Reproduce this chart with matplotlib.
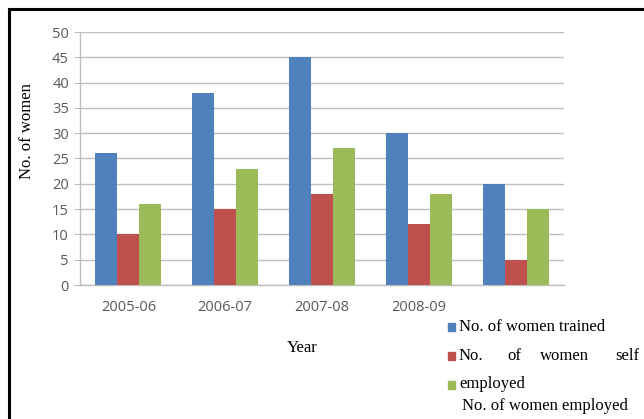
import numpy as np
import matplotlib
matplotlib.use("Agg")
import matplotlib.pyplot as plt
from matplotlib.patches import Rectangle
from matplotlib.lines import Line2D

# --- data ---
years = ["2005-06", "2006-07", "2007-08", "2008-09", ""]
trained = [26, 38, 45, 30, 20]
self_employed = [10, 15, 18, 12, 5]
employed = [16, 23, 27, 18, 15]

BLUE = "#4F81BD"
RED = "#C0504D"
GREEN = "#9BBB59"
GRID = "#BEBEBE"
TICK = "#595959"

W, H = 644, 419
fig = plt.figure(figsize=(W / 100, H / 100), dpi=100)


def fx(px):
    return px / W


def fy(py):
    return 1 - py / H


ax = fig.add_axes([fx(80), fy(285), fx(564) - fx(80), fy(32) - fy(285)])

x = np.arange(len(years))
bw = 0.227
ax.bar(x - bw, trained, bw, color=BLUE, zorder=3)
ax.bar(x, self_employed, bw, color=RED, zorder=3)
ax.bar(x + bw, employed, bw, color=GREEN, zorder=3)

ax.set_xlim(-0.5, len(years) - 0.5)
ax.set_ylim(0, 50)
ax.set_yticks(np.arange(0, 51, 5))
ax.set_xticks(x)
ax.set_xticklabels(years)
ax.yaxis.grid(True, color=GRID, linewidth=1.0, zorder=0)
ax.set_axisbelow(True)

for side in ("top", "right"):
    ax.spines[side].set_visible(False)
for side in ("left", "bottom"):
    ax.spines[side].set_color(GRID)
    ax.spines[side].set_linewidth(1.0)

ax.tick_params(axis="y", length=4, color=GRID, labelcolor=TICK, labelsize=10.5, pad=4)
ax.tick_params(axis="x", length=0, labelcolor=TICK, labelsize=10.5, pad=11)
for lbl in ax.get_xticklabels() + ax.get_yticklabels():
    lbl.set_family("Open Sans")

serif = "Liberation Serif"
fs = 12
fig.text(fx(27), fy(131), "No. of women", rotation=90, ha="center", va="center",
         family=serif, fontsize=fs)
fig.text(fx(302), fy(348), "Year", ha="center", va="center", family=serif, fontsize=fs)

# legend drawn by hand, as in the reference
for col, py in ((BLUE, 327), (RED, 356), (GREEN, 385)):
    fig.add_artist(Rectangle((fx(448), fy(py + 4)), fx(7), fy(0) - fy(8),
                             transform=fig.transFigure, color=col))
fig.text(fx(459), fy(327), "No. of women trained", va="center", family=serif, fontsize=fs)
for word, px in (("No.", 459), ("of", 507), ("women", 540), ("self", 615)):
    fig.text(fx(px), fy(356), word, va="center", family=serif, fontsize=fs)
fig.text(fx(459), fy(384), "employed", va="center", family=serif, fontsize=fs)
fig.text(fx(462), fy(406), "No. of women employed", va="center", family=serif, fontsize=fs)

# page frame (left and top edges only)
fig.add_artist(Line2D([fx(9), fx(9)], [0, fy(9)], transform=fig.transFigure,
                      color="black", linewidth=2.2))
fig.add_artist(Line2D([fx(9), 1], [fy(9), fy(9)], transform=fig.transFigure,
                      color="black", linewidth=2.2))

fig.savefig("out.png", dpi=100)
